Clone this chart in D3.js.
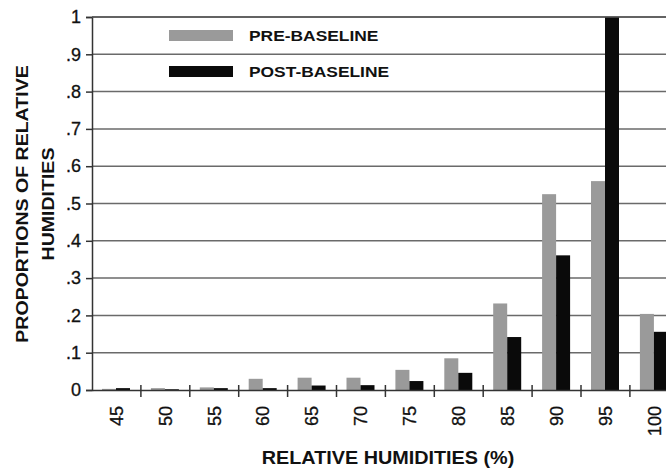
<!DOCTYPE html>
<html>
<head>
<meta charset="utf-8">
<script src="https://cdn.jsdelivr.net/npm/d3@7"></script>
<style>
  body { margin: 0; background: #fff; }
  text { font-family: "Liberation Sans", Arial, sans-serif; }
</style>
</head>
<body>
<div id="chart"></div>
<script>
// humidity classes and the two series
const categories = ["45", "50", "55", "60", "65", "70", "75", "80", "85", "90", "95", "100"];
const preBaseline = [0.003, 0.005, 0.007, 0.030, 0.033, 0.033, 0.054, 0.085, 0.232, 0.525, 0.560, 0.204];
const postBaseline = [0.005, 0.002, 0.005, 0.005, 0.012, 0.013, 0.024, 0.046, 0.142, 0.361, 1.0, 0.156];
const yTicks = [0, 0.1, 0.2, 0.3, 0.4, 0.5, 0.6, 0.7, 0.8, 0.9, 1];
const seriesNames = ["PRE-BASELINE", "POST-BASELINE"];

const width = 666, height = 468;
const margin = { top: 17, left: 92, bottom: 78 };
const colors = ["#9a9a9a", "#0a0a0a"];

const svg = d3.select("#chart")
  .append("svg")
  .attr("width", width)
  .attr("height", height);

const plotRight = margin.left + categories.length * 48.9;

const xScale = d3.scaleBand()
  .domain(categories)
  .range([margin.left, plotRight])
  .padding(0);

const sub = d3.scaleBand()
  .domain([0, 1])
  .range([10, 38])
  .padding(0);

const yScale = d3.scaleLinear()
  .domain([0, 1])
  .range([height - margin.bottom, margin.top]);

// gridlines
svg.append("g")
  .selectAll("line")
  .data(yTicks.filter(d => d > 0))
  .enter()
  .append("line")
    .attr("x1", margin.left)
    .attr("x2", width)
    .attr("y1", d => yScale(d))
    .attr("y2", d => yScale(d))
    .attr("stroke", "#6a6a6a")
    .attr("stroke-width", 1.5);

// bars
const rows = categories.map((c, i) => ({ cat: c, vals: [preBaseline[i], postBaseline[i]] }));

svg.append("g")
  .selectAll("g")
  .data(rows)
  .enter()
  .append("g")
    .attr("transform", d => `translate(${xScale(d.cat)},0)`)
  .selectAll("rect")
  .data(d => d.vals.map((v, k) => ({ k: k, v: v })))
  .enter()
  .append("rect")
    .attr("x", d => sub(d.k))
    .attr("width", sub.bandwidth())
    .attr("y", d => yScale(d.v))
    .attr("height", d => yScale(0) - yScale(d.v))
    .attr("fill", d => colors[d.k]);

// y axis
const yAxis = svg.append("g")
  .attr("transform", `translate(${margin.left},0)`)
  .call(d3.axisLeft(yScale)
    .tickValues(yTicks)
    .tickSize(6)
    .tickPadding(5)
    .tickFormat(d => d === 0 ? "0" : d === 1 ? "1" : d3.format(".1f")(d).replace("0.", ".")));
yAxis.select(".domain").attr("stroke", "#333").attr("stroke-width", 1.5);
yAxis.selectAll(".tick line").attr("stroke", "#333").attr("stroke-width", 1.5);
yAxis.selectAll("text")
  .attr("font-size", "18px")
  .attr("fill", "#111")
  .attr("stroke", "#111")
  .attr("stroke-width", 0.3)
  .attr("font-family", "Liberation Sans, Arial, sans-serif");

// x axis
const xAxis = svg.append("g")
  .attr("transform", `translate(0,${yScale(0)})`)
  .call(d3.axisBottom(xScale).tickSize(0).tickPadding(0));
xAxis.select(".domain").attr("stroke", "#333").attr("stroke-width", 1.5);
xAxis.selectAll(".tick text")
  .attr("transform", "rotate(-90)")
  .attr("x", -16)
  .attr("y", 0)
  .attr("dy", "0.35em")
  .attr("text-anchor", "end")
  .attr("font-size", "18px")
  .attr("fill", "#111")
  .attr("stroke", "#111")
  .attr("stroke-width", 0.3)
  .attr("font-family", "Liberation Sans, Arial, sans-serif");

// boundary ticks between categories
svg.append("g")
  .selectAll("line")
  .data(categories.slice(1))
  .enter()
  .append("line")
    .attr("x1", d => xScale(d))
    .attr("x2", d => xScale(d))
    .attr("y1", yScale(0) - 5)
    .attr("y2", yScale(0) + 7)
    .attr("stroke", "#333")
    .attr("stroke-width", 1.5);

// top border
svg.append("line")
  .attr("x1", margin.left).attr("x2", width)
  .attr("y1", yScale(1)).attr("y2", yScale(1))
  .attr("stroke", "#555").attr("stroke-width", 1.5);

// legend
const legend = svg.append("g")
  .selectAll("g")
  .data(seriesNames)
  .enter()
  .append("g")
    .attr("transform", (d, i) => `translate(169,${30 + i * 36})`);

legend.append("rect")
  .attr("width", 64)
  .attr("height", 11)
  .attr("fill", (d, i) => colors[i]);

// the scanned lettering is wider than Liberation, so stretch it a bit
legend.append("text")
  .attr("transform", "translate(80,11) scale(1.16,1)")
  .attr("font-size", "15px")
  .attr("font-weight", "bold")
  .attr("fill", "#111")
  .text(d => d);

// axis titles
svg.append("text")
  .attr("transform", `translate(28,204) rotate(-90) scale(1.15,1)`)
  .attr("text-anchor", "middle")
  .attr("font-size", "17px")
  .attr("font-weight", "bold")
  .attr("fill", "#111")
  .text("PROPORTIONS OF RELATIVE");

svg.append("text")
  .attr("transform", `translate(54,204) rotate(-90) scale(1.15,1)`)
  .attr("text-anchor", "middle")
  .attr("font-size", "17px")
  .attr("font-weight", "bold")
  .attr("fill", "#111")
  .text("HUMIDITIES");

svg.append("text")
  .attr("transform", "translate(388,464) scale(1.1,1)")
  .attr("text-anchor", "middle")
  .attr("font-size", "18px")
  .attr("font-weight", "bold")
  .attr("fill", "#111")
  .text("RELATIVE HUMIDITIES (%)");
</script>
</body>
</html>
